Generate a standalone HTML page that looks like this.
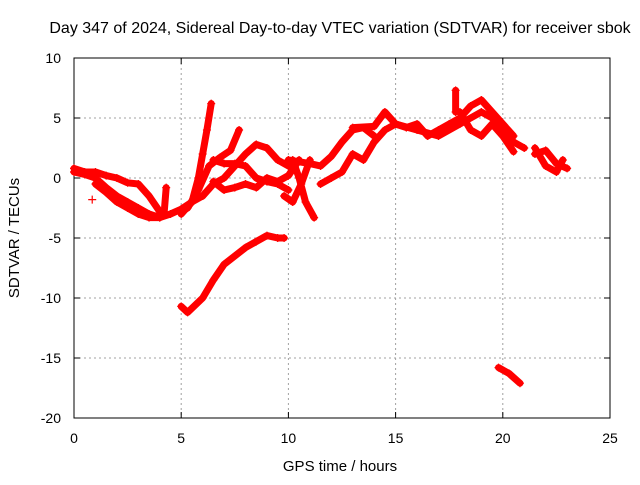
<!DOCTYPE html>
<html><head><meta charset="utf-8"><style>
body{margin:0;background:#fff}
svg text{font-family:"Liberation Sans",sans-serif;font-size:14px;fill:#000}
</style></head><body>
<svg id="chart" width="640" height="480" xmlns="http://www.w3.org/2000/svg">
<rect width="640" height="480" fill="#fff"/>
<text x="340" y="33" text-anchor="middle" style="font-size:16px">Day 347 of 2024, Sidereal Day-to-day VTEC variation (SDTVAR) for receiver sbok</text>
<g id="grid"></g>
<g id="axes"></g>
<g id="series"></g>
<text x="340" y="471" text-anchor="middle" style="font-size:15px">GPS time / hours</text>
<text transform="translate(19,238) rotate(-90)" text-anchor="middle" style="font-size:15px">SDTVAR / TECUs</text>
</svg>
<script>
const xTicks=[0,5,10,15,20,25];
const yTicks=[10,5,0,-5,-10,-15,-20];
const track1=[[0,0.5],[0.5,0.3],[1,0],[1.5,-0.8],[2,-1.5],[2.5,-2],[3,-2.5],[3.5,-3],[4,-3.3],[4.5,-3],[5,-2.6],[5.5,-2],[6,-1.5]];
const track2=[[0,0.8],[0.5,0.5],[1,0.5],[1.5,0.2],[2,0],[2.5,-0.4],[3,-0.5],[3.5,-1.5],[4,-2.8]];
const track3=[[1,-0.5],[1.5,-1.2],[2,-2],[2.5,-2.5],[3,-3],[3.5,-3.3],[4,-3.3]];
const track4=[[4.2,-3],[4.3,-0.8]];
const track5=[[5,-3],[5.5,-2],[5.8,0],[6,2],[6.2,4],[6.4,6.2]];
const track6=[[5.3,-2.5],[5.8,-1],[6.3,1],[6.8,1.7],[7.3,2.3],[7.7,4]];
const track7=[[6,-1.5],[6.5,-0.5],[7,0],[7.5,1],[8,2],[8.5,2.8],[9,2.5],[9.5,1.5],[10,1]];
const track8=[[6.5,1.5],[7,1.2],[7.5,1.2],[8,1],[8.5,0],[9,-0.3],[9.5,-0.5],[10,-1]];
const track9=[[6.5,-0.3],[7,-1],[7.5,-0.8],[8,-0.5],[8.5,-0.8],[9,0],[9.5,-0.3],[10,0.2],[10.5,1.5]];
const track10=[[9.8,-1.5],[10.2,-2],[10.6,-0.5],[11,1.5]];
const track11=[[10.2,1.5],[10.5,0],[10.8,-2],[11.2,-3.3]];
const track12=[[5,-10.7],[5.3,-11.2],[6,-10],[6.5,-8.5],[7,-7.2],[7.5,-6.5],[8,-5.8],[8.5,-5.3],[9,-4.8],[9.5,-5],[9.8,-5]];
const track13=[[19.8,-15.8],[20.3,-16.3],[20.8,-17.1]];
const track14=[[10,1.5],[11,1.2],[11.5,1],[12,1.8],[12.5,3],[13,4],[13.5,4.2],[14,3.5]];
const track15=[[11.5,-0.5],[12,0],[12.5,0.5],[13,2],[13.5,1.5],[14,3],[14.5,4],[15,4.5],[16,4],[17,3.5],[18,4.5],[19,5.5],[19.5,5],[20,4],[20.5,3],[21,2.5]];
const track16=[[13,4.2],[14,4.3],[14.5,5.5],[15,4.5],[15.5,4.2],[16,4.5],[16.5,3.5],[17,4],[17.5,4.5],[18,5],[18.5,6],[19,6.5],[19.5,5.5],[20,4.5],[20.5,3.5]];
const track17=[[18,5.5],[18.5,4],[19,3.5],[19.5,4.5],[20,3.5],[20.5,2.2]];
const track18=[[21.5,2.5],[22,1],[22.5,0.5],[22.8,1.5]];
const track19=[[21.5,2],[22,2.3],[22.5,1.2],[23,0.8]];
const track20=[[17.8,7.3],[17.8,5.5]];
const track21=[[0.85,-1.8]];
const tracks=[track1,track2,track3,track4,track5,track6,track7,track8,track9,track10,track11,track12,track13,track14,track15,track16,track17,track18,track19,track20,track21];

const L=74,R=610,T=58,B=418;
const sx=v=>L+(v-0)/25*(R-L);
const sy=v=>B-(v+20)/30*(B-T);
const NS='http://www.w3.org/2000/svg';
const mk=(t,a,p)=>{const e=document.createElementNS(NS,t);for(const k in a)e.setAttribute(k,a[k]);p.appendChild(e);return e;};
const grid=document.getElementById('grid'),axes=document.getElementById('axes'),ser=document.getElementById('series');
xTicks.forEach(t=>{
  if(t>0&&t<25){const g=mk('line',{x1:sx(t),x2:sx(t),y1:T,y2:B,stroke:'#a0a0a0','stroke-dasharray':'2,3'},grid);
  
  }
  const lb=mk('text',{x:sx(t),y:B+25,'text-anchor':'middle'},axes);lb.textContent=t;
  
  
  mk('line',{x1:sx(t),x2:sx(t),y1:B,y2:B-6,stroke:'#000'},axes);
  mk('line',{x1:sx(t),x2:sx(t),y1:T,y2:T+6,stroke:'#000'},axes);
});
yTicks.forEach(t=>{
  if(t>-20&&t<10){const g=mk('line',{x1:L,x2:R,y1:sy(t),y2:sy(t),stroke:'#a0a0a0','stroke-dasharray':'2,3'},grid);
  
  }
  const lb=mk('text',{x:L-13,y:sy(t)+5,'text-anchor':'end'},axes);lb.textContent=t;
  
  
  mk('line',{x1:L,x2:L+6,y1:sy(t),y2:sy(t),stroke:'#000'},axes);
  mk('line',{x1:R,x2:R-6,y1:sy(t),y2:sy(t),stroke:'#000'},axes);
});
const box=mk('rect',{x:L,y:T,width:R-L,height:B-T,fill:'none',stroke:'#000'},axes);


tracks.forEach(tr=>{
  if(tr.length>1){
    const pl=mk('polyline',{points:tr.map(p=>sx(p[0])+','+sy(p[1])).join(' '),fill:'none',stroke:'#ff0000','stroke-width':7,'stroke-linejoin':'round','stroke-linecap':'round'},ser);
    
    
  }
  tr.forEach(p=>{
    const x=sx(p[0]),y=sy(p[1]);
    const m=mk('path',{d:`M${x-4},${y}H${x+4}M${x},${y-4}V${y+4}`,stroke:'#ff0000','stroke-width':1.2},ser);
    
    
  });
});
</script>
</body></html>
